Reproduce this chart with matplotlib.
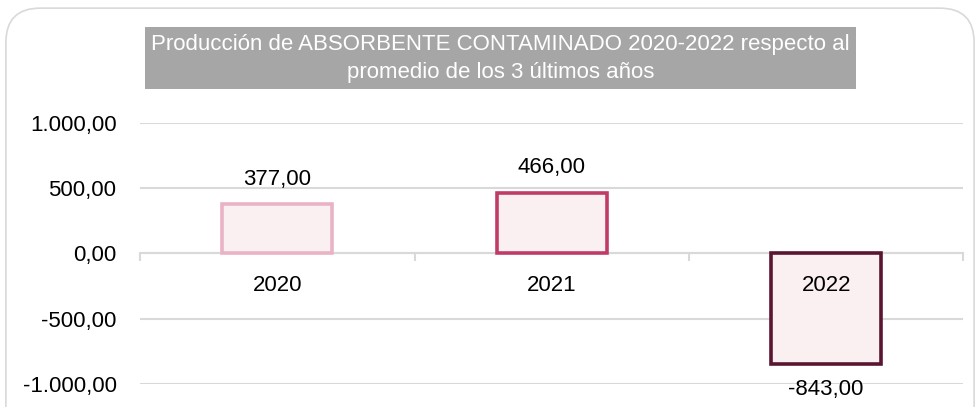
import matplotlib.pyplot as plt
from matplotlib.patches import FancyBboxPatch

plt.rcParams['font.family'] = ['Liberation Sans', 'DejaVu Sans']

years = ['2020', '2021', '2022']
values = [377.00, 466.00, -843.00]
edge_colors = ['#eab3c5', '#c03c68', '#5a1530']
fill_color = '#faf0f2'
yticks = [-1000, -500, 0, 500, 1000]


def fmt(v):
  # spanish number style: 1.000,00
  s = '{:,.2f}'.format(v)
  return s.replace(',', 'X').replace('.', ',').replace('X', '.')


fig = plt.figure(figsize=(9.8, 4.07), dpi=100)

# outer rounded frame, behind everything
frame = FancyBboxPatch((0.006, -0.1), 0.988, 1.08, transform=fig.transFigure,
                       boxstyle='round,pad=0,rounding_size=0.035',
                       facecolor='white', edgecolor='#d9d9d9', linewidth=1.2,
                       mutation_aspect=980/407, zorder=-10)
fig.patches.append(frame)

ax = fig.add_axes([0.143, 0.0565, 0.84, 0.6415])
ax.set_facecolor('none')

x = range(len(years))
ax.bar(x, values, width=0.4, color=fill_color, edgecolor=edge_colors,
       linewidth=2.6, zorder=3)

ax.set_xlim(-0.5, len(years) - 0.5)
ax.set_ylim(-1000, 1000)
ax.set_yticks(yticks)
ax.set_yticklabels([fmt(v) for v in yticks], fontsize=16)
ax.tick_params(axis='y', length=0, pad=17)
ax.grid(axis='y', color='#d9d9d9', linewidth=1.5, zorder=0)

for s in ['left', 'right', 'top']:
  ax.spines[s].set_visible(False)
ax.spines['bottom'].set_position(('data', 0))
ax.spines['bottom'].set_color('#d9d9d9')
ax.spines['bottom'].set_linewidth(1.5)
ax.spines['bottom'].set_zorder(2)
ax.set_xticks(x)
ax.set_xticklabels([])
ax.tick_params(axis='x', which='major', length=0)
ax.set_xticks([i - 0.5 for i in range(len(years) + 1)], minor=True)
ax.tick_params(axis='x', which='minor', length=6, width=1.5, color='#d9d9d9')

for i, v in enumerate(values):
  # category labels just below zero line
  ax.annotate(years[i], (i, 0), xytext=(0, -23), textcoords='offset points',
              ha='center', va='center', fontsize=16, zorder=5)
  # value labels
  off = 18 if v > 0 else -19
  ax.annotate(fmt(v), (i, v), xytext=(0, off), textcoords='offset points',
              ha='center', va='center', fontsize=16, zorder=5)

fig.text(0.5107, 0.857, 'Producción de ABSORBENTE CONTAMINADO 2020-2022 respecto al\n'
         'promedio de los 3 últimos años', ha='center', va='center',
         color='white', fontsize=16, linespacing=1.45,
         bbox=dict(boxstyle='square,pad=0.3', facecolor='#a6a6a6', edgecolor='none'))

plt.savefig('out.png', dpi=100)
